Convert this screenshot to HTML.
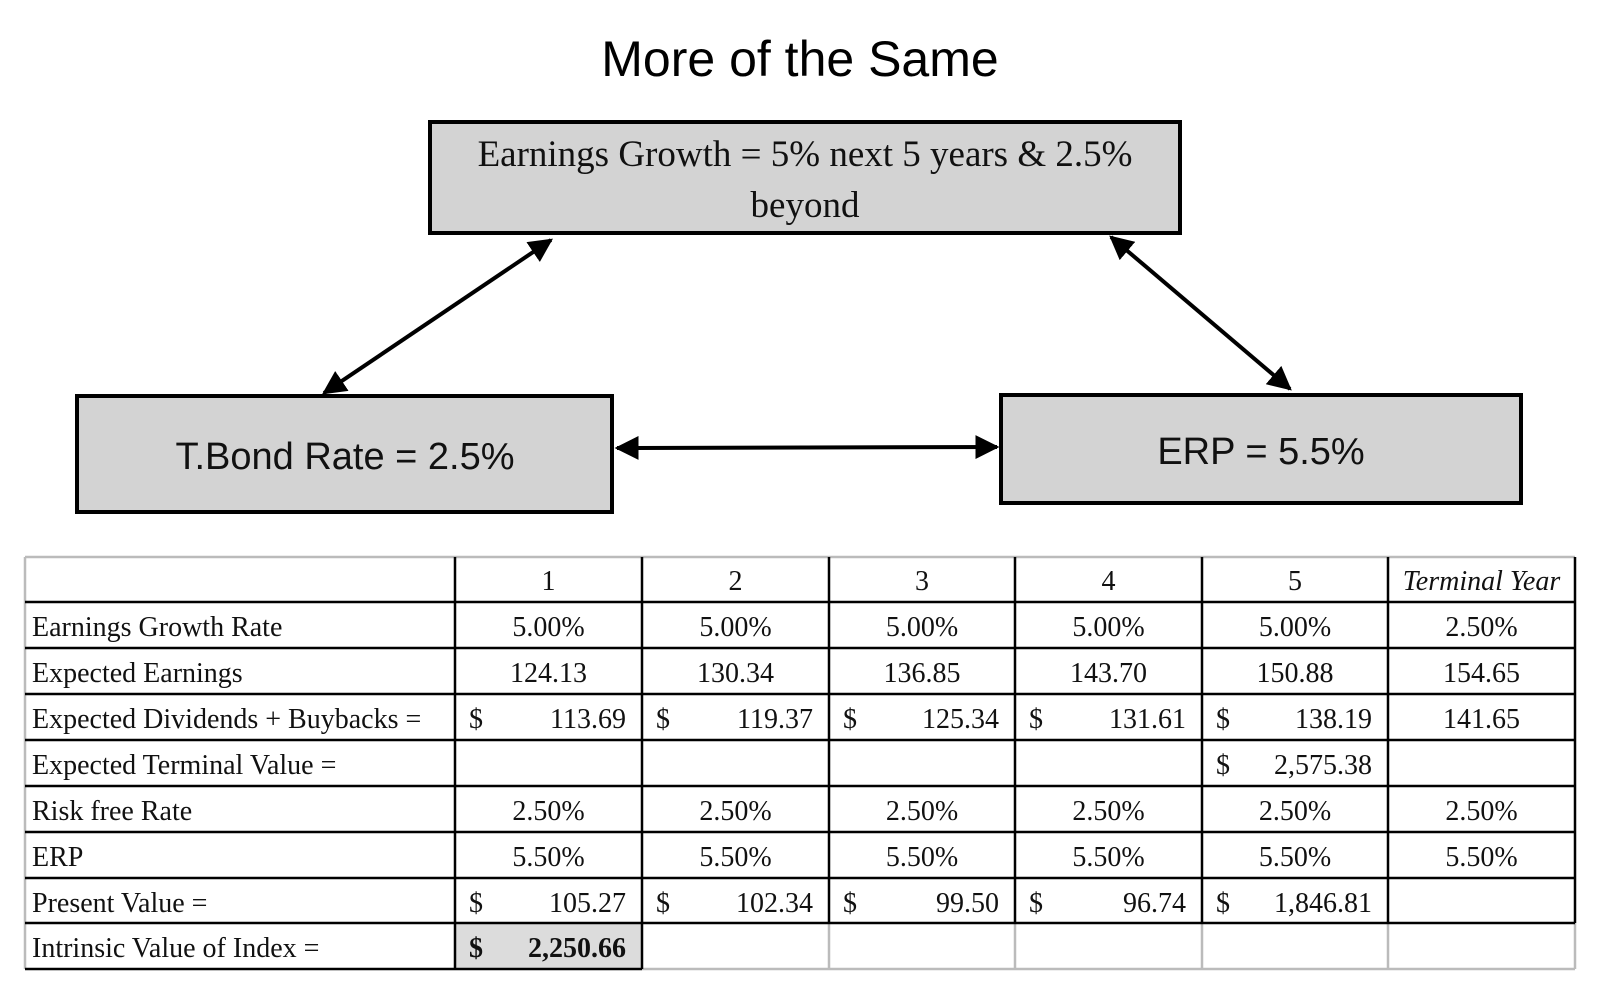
<!DOCTYPE html>
<html><head><meta charset="utf-8"><style>
html,body{margin:0;padding:0;background:#fff;}
svg{display:block;}
.s{font-family:"Liberation Serif",serif;font-size:28px;fill:#111;}
</style></head><body>
<svg id="root" width="1600" height="995" viewBox="0 0 1600 995" xmlns="http://www.w3.org/2000/svg">
<defs>
<marker id="ah" viewBox="0 0 10 10" refX="9" refY="5" markerWidth="6" markerHeight="6" orient="auto-start-reverse"><path d="M0,0 L10,5 L0,10 z" fill="#000"/></marker>
</defs>
<text x="800" y="76" text-anchor="middle" font-family="Liberation Sans, sans-serif" font-size="50" fill="#000">More of the Same</text>

<g>
<rect x="430" y="122" width="750" height="111" fill="#d3d3d3" stroke="#000" stroke-width="4"/>
<text x="805" y="166" text-anchor="middle" font-family="Liberation Serif, serif" font-size="37" fill="#111">Earnings Growth = 5% next 5 years &amp; 2.5%</text>
<text x="805" y="217" text-anchor="middle" font-family="Liberation Serif, serif" font-size="37" fill="#111">beyond</text>
</g>
<g>
<rect x="77" y="396" width="535" height="116" fill="#d3d3d3" stroke="#000" stroke-width="4"/>
<text x="345" y="469" text-anchor="middle" font-family="Liberation Sans, sans-serif" font-size="38" fill="#111">T.Bond Rate = 2.5%</text>
</g>
<g>
<rect x="1001" y="395" width="520" height="108" fill="#d3d3d3" stroke="#000" stroke-width="4"/>
<text x="1261" y="464" text-anchor="middle" font-family="Liberation Sans, sans-serif" font-size="38" fill="#111">ERP = 5.5%</text>
</g>
<line x1="551" y1="240" x2="324" y2="393" stroke="#000" stroke-width="4" marker-start="url(#ah)" marker-end="url(#ah)"/>
<line x1="1111" y1="237" x2="1290" y2="389" stroke="#000" stroke-width="4" marker-start="url(#ah)" marker-end="url(#ah)"/>
<line x1="617" y1="448" x2="997" y2="447" stroke="#000" stroke-width="4" marker-start="url(#ah)" marker-end="url(#ah)"/>
<g id="tbl"></g>
</svg>
<script>
const colX=[25,455,642,829,1015,1202,1388,1575];
const rowY=[557,602,648,694,740,786,832,878,923,969];
const headers=["1","2","3","4","5","Terminal Year"];
const labels=["Earnings Growth Rate","Expected Earnings","Expected Dividends + Buybacks =","Expected Terminal Value =","Risk free Rate","ERP","Present Value =","Intrinsic Value of Index ="];
// cell: [text, dollar?]
const cells=[
[["5.00%"],["5.00%"],["5.00%"],["5.00%"],["5.00%"],["2.50%"]],
[["124.13"],["130.34"],["136.85"],["143.70"],["150.88"],["154.65"]],
[["113.69",1],["119.37",1],["125.34",1],["131.61",1],["138.19",1],["141.65"]],
[null,null,null,null,["2,575.38",1],null],
[["2.50%"],["2.50%"],["2.50%"],["2.50%"],["2.50%"],["2.50%"]],
[["5.50%"],["5.50%"],["5.50%"],["5.50%"],["5.50%"],["5.50%"]],
[["105.27",1],["102.34",1],["99.50",1],["96.74",1],["1,846.81",1],null],
[["2,250.66",1,1],null,null,null,null,null]
];
const NS="http://www.w3.org/2000/svg";
const g=document.getElementById('tbl');
function mk(t,a,txt){const e=document.createElementNS(NS,t);for(const k in a)e.setAttribute(k,a[k]);if(txt!=null)e.textContent=txt;g.appendChild(e);return e;}
// shaded cell
const sh=mk('rect',{x:colX[1],y:rowY[8],width:colX[2]-colX[1],height:rowY[9]-rowY[8],fill:'#dcdcdc'});


// gray grid lines (outer/last row)
mk('line',{x1:colX[0],y1:rowY[0],x2:colX[7],y2:rowY[0],stroke:'#bbb','stroke-width':2.5});
mk('line',{x1:colX[0],y1:rowY[0],x2:colX[0],y2:rowY[9],stroke:'#bbb','stroke-width':2.5});
mk('line',{x1:colX[7],y1:rowY[8],x2:colX[7],y2:rowY[9],stroke:'#bbb','stroke-width':2.5});
mk('line',{x1:colX[2],y1:rowY[9],x2:colX[7],y2:rowY[9],stroke:'#bbb','stroke-width':2.5});
for(let c=3;c<7;c++)mk('line',{x1:colX[c],y1:rowY[8],x2:colX[c],y2:rowY[9],stroke:'#bbb','stroke-width':2.5});
// black lines
for(let r=1;r<=8;r++)mk('line',{x1:colX[0],y1:rowY[r],x2:colX[7],y2:rowY[r],stroke:'#000','stroke-width':2.5});
mk('line',{x1:colX[0],y1:rowY[9],x2:colX[2],y2:rowY[9],stroke:'#000','stroke-width':2.5});
for(let c=1;c<=2;c++)mk('line',{x1:colX[c],y1:rowY[0],x2:colX[c],y2:rowY[9],stroke:'#000','stroke-width':2.5});
for(let c=3;c<=7;c++)mk('line',{x1:colX[c],y1:rowY[0],x2:colX[c],y2:rowY[8],stroke:'#000','stroke-width':2.5});
headers.forEach((h,i)=>{
 const t=mk('text',{x:(colX[i+1]+colX[i+2])/2,y:rowY[0]+33,'text-anchor':'middle',class:'s','font-style':i==5?'italic':'normal'},h);
 
 
});
labels.forEach((l,r)=>{
 const t=mk('text',{x:colX[0]+7,y:rowY[r+1]+34,class:'s'},l);
 
 
 cells[r].forEach((c,i)=>{
  if(!c)return;
  const x0=colX[i+1],x1=colX[i+2],y=rowY[r+1]+34;
  const w=c[2]?'bold':'normal';
  if(c[1]){
   const d=mk('text',{x:x0+14,y:y,class:'s','font-weight':w},'$');
   
   
   const v=mk('text',{x:x1-16,y:y,'text-anchor':'end',class:'s','font-weight':w},c[0]);
   
   
  }else{
   const v=mk('text',{x:(x0+x1)/2,y:y,'text-anchor':'middle',class:'s'},c[0]);
   
   
  }
 });
});
</script>
</body></html>
